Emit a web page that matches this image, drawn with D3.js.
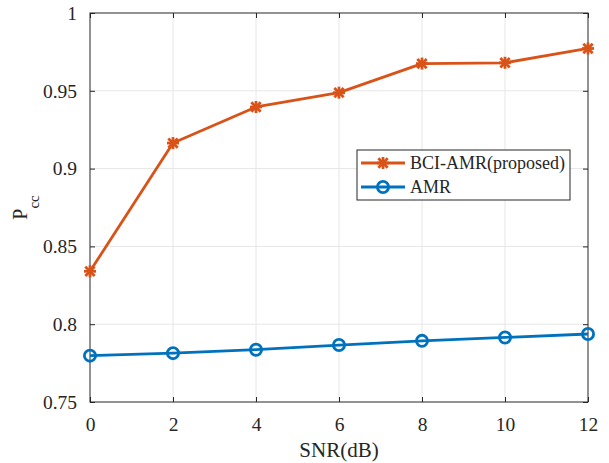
<!DOCTYPE html>
<html>
<head>
<meta charset="utf-8">
<script src="https://cdn.jsdelivr.net/npm/d3@7"></script>
<style>
  html, body { margin: 0; padding: 0; background: #fff; }
  svg { display: block; }
</style>
</head>
<body>
<svg id="chart" width="609" height="463"></svg>
<script>
// SNR points (dB)
const snr = [0, 2, 4, 6, 8, 10, 12];
// Probability of correct classification per method
const pccBCI = [0.834, 0.9164, 0.9396, 0.9488, 0.9675, 0.968, 0.9772];
const pccAMR = [0.7798, 0.7814, 0.7836, 0.7866, 0.7893, 0.7915, 0.7937];
const seriesNames = ["BCI-AMR(proposed)", "AMR"];
const seriesColors = ["#D95319", "#0072BD"];
const xTicks = [0, 2, 4, 6, 8, 10, 12];
const yTicks = [0.75, 0.8, 0.85, 0.9, 0.95, 1];

const FONT = "Liberation Serif, DejaVu Serif, serif";
const svg = d3.select("#chart");
const margin = { left: 90, right: 21, top: 13, bottom: 61 };
const W = 609, H = 463;
const x = d3.scaleLinear().domain([0, 12]).range([margin.left, W - margin.right]);
const y = d3.scaleLinear().domain([0.75, 1]).range([H - margin.bottom, margin.top]);

const axisColor = "#262626";
const gridColor = "#e6e6e6";
const tickLen = 5;
const lineW = 2.8;

// grid
const grid = svg.append("g");
grid.selectAll(".gx").data(xTicks.slice(1, -1)).join("line")
  .attr("x1", d => x(d)).attr("x2", d => x(d))
  .attr("y1", y(1)).attr("y2", y(0.75))
  .attr("stroke", gridColor).attr("stroke-width", 1);
grid.selectAll(".gy").data(yTicks.slice(1, -1)).join("line")
  .attr("x1", x(0)).attr("x2", x(12))
  .attr("y1", d => y(d)).attr("y2", d => y(d))
  .attr("stroke", gridColor).attr("stroke-width", 1);

// axes (inward ticks on all four sides)
const fmtY = d => String(d);
const bottomAxis = d3.axisBottom(x).tickValues(xTicks).tickSize(-tickLen).tickPadding(15).tickFormat(d3.format("d"));
const topAxis = d3.axisTop(x).tickValues(xTicks).tickSize(-tickLen).tickFormat("");
const leftAxis = d3.axisLeft(y).tickValues(yTicks).tickSize(-tickLen).tickPadding(13).tickFormat(fmtY);
const rightAxis = d3.axisRight(y).tickValues(yTicks).tickSize(-tickLen).tickFormat("");

function styleAxis(g) {
  g.attr("font-family", FONT).attr("font-size", 19.5);
  g.select(".domain").remove();
  g.selectAll(".tick line").attr("stroke", axisColor).attr("stroke-width", 1);
  g.selectAll(".tick text").attr("fill", axisColor);
}
svg.append("g").attr("transform", `translate(0,${y(0.75)})`).call(bottomAxis).call(styleAxis);
svg.append("g").attr("transform", `translate(0,${y(1)})`).call(topAxis).call(styleAxis);
svg.append("g").attr("transform", `translate(${x(0)},0)`).call(leftAxis).call(styleAxis);
svg.append("g").attr("transform", `translate(${x(12)},0)`).call(rightAxis).call(styleAxis);

// box frame
svg.append("rect")
  .attr("x", x(0)).attr("y", y(1))
  .attr("width", x(12) - x(0)).attr("height", y(0.75) - y(1))
  .attr("fill", "none").attr("stroke", axisColor).attr("stroke-width", 1);

// axis labels
svg.append("text").attr("x", (x(0) + x(12)) / 2).attr("y", 457)
  .attr("text-anchor", "middle").attr("font-family", FONT).attr("font-size", 21)
  .attr("fill", axisColor).text("SNR(dB)");
const yl = svg.append("text")
  .attr("transform", `translate(27,${(y(0.75) + y(1)) / 2}) rotate(-90)`)
  .attr("text-anchor", "middle").attr("font-family", FONT).attr("font-size", 20)
  .attr("fill", axisColor);
yl.append("tspan").text("P");
yl.append("tspan").attr("dy", 12).attr("font-size", 15).text("cc");

// series
const line = d3.line().x(d => x(d[0])).y(d => y(d[1]));
const seriesData = [pccBCI, pccAMR].map(vals => snr.map((s, i) => [s, vals[i]]));

function asterisk(g, cx, cy, color) {
  const r = 6, rd = r * 0.78;
  const segs = [[-r, 0, r, 0], [0, -r, 0, r], [-rd, -rd, rd, rd], [-rd, rd, rd, -rd]];
  segs.forEach(s => g.append("line")
    .attr("x1", cx + s[0]).attr("y1", cy + s[1]).attr("x2", cx + s[2]).attr("y2", cy + s[3])
    .attr("stroke", color).attr("stroke-width", lineW).attr("stroke-linecap", "butt"));
}
function circle(g, cx, cy, color) {
  g.append("circle").attr("cx", cx).attr("cy", cy).attr("r", 5.6)
    .attr("fill", "none").attr("stroke", color).attr("stroke-width", lineW);
}
const markers = [asterisk, circle];

seriesData.forEach((data, k) => {
  const g = svg.append("g");
  g.append("path").datum(data).attr("d", line)
    .attr("fill", "none").attr("stroke", seriesColors[k]).attr("stroke-width", lineW)
    .attr("stroke-linejoin", "round");
  data.forEach(d => markers[k](g, x(d[0]), y(d[1]), seriesColors[k]));
});

// legend
const lg = svg.append("g");
lg.append("rect").attr("x", 357).attr("y", 150).attr("width", 213).attr("height", 50)
  .attr("fill", "#fff").attr("stroke", axisColor).attr("stroke-width", 1);
seriesNames.forEach((name, k) => {
  const cy = 163 + k * 24;
  lg.append("line").attr("x1", 361).attr("x2", 405).attr("y1", cy).attr("y2", cy)
    .attr("stroke", seriesColors[k]).attr("stroke-width", lineW);
  markers[k](lg, 383, cy, seriesColors[k]);
  lg.append("text").attr("x", 410).attr("y", cy + 6)
    .attr("font-family", FONT).attr("font-size", 18).attr("fill", axisColor).text(name);
});
</script>
</body>
</html>
